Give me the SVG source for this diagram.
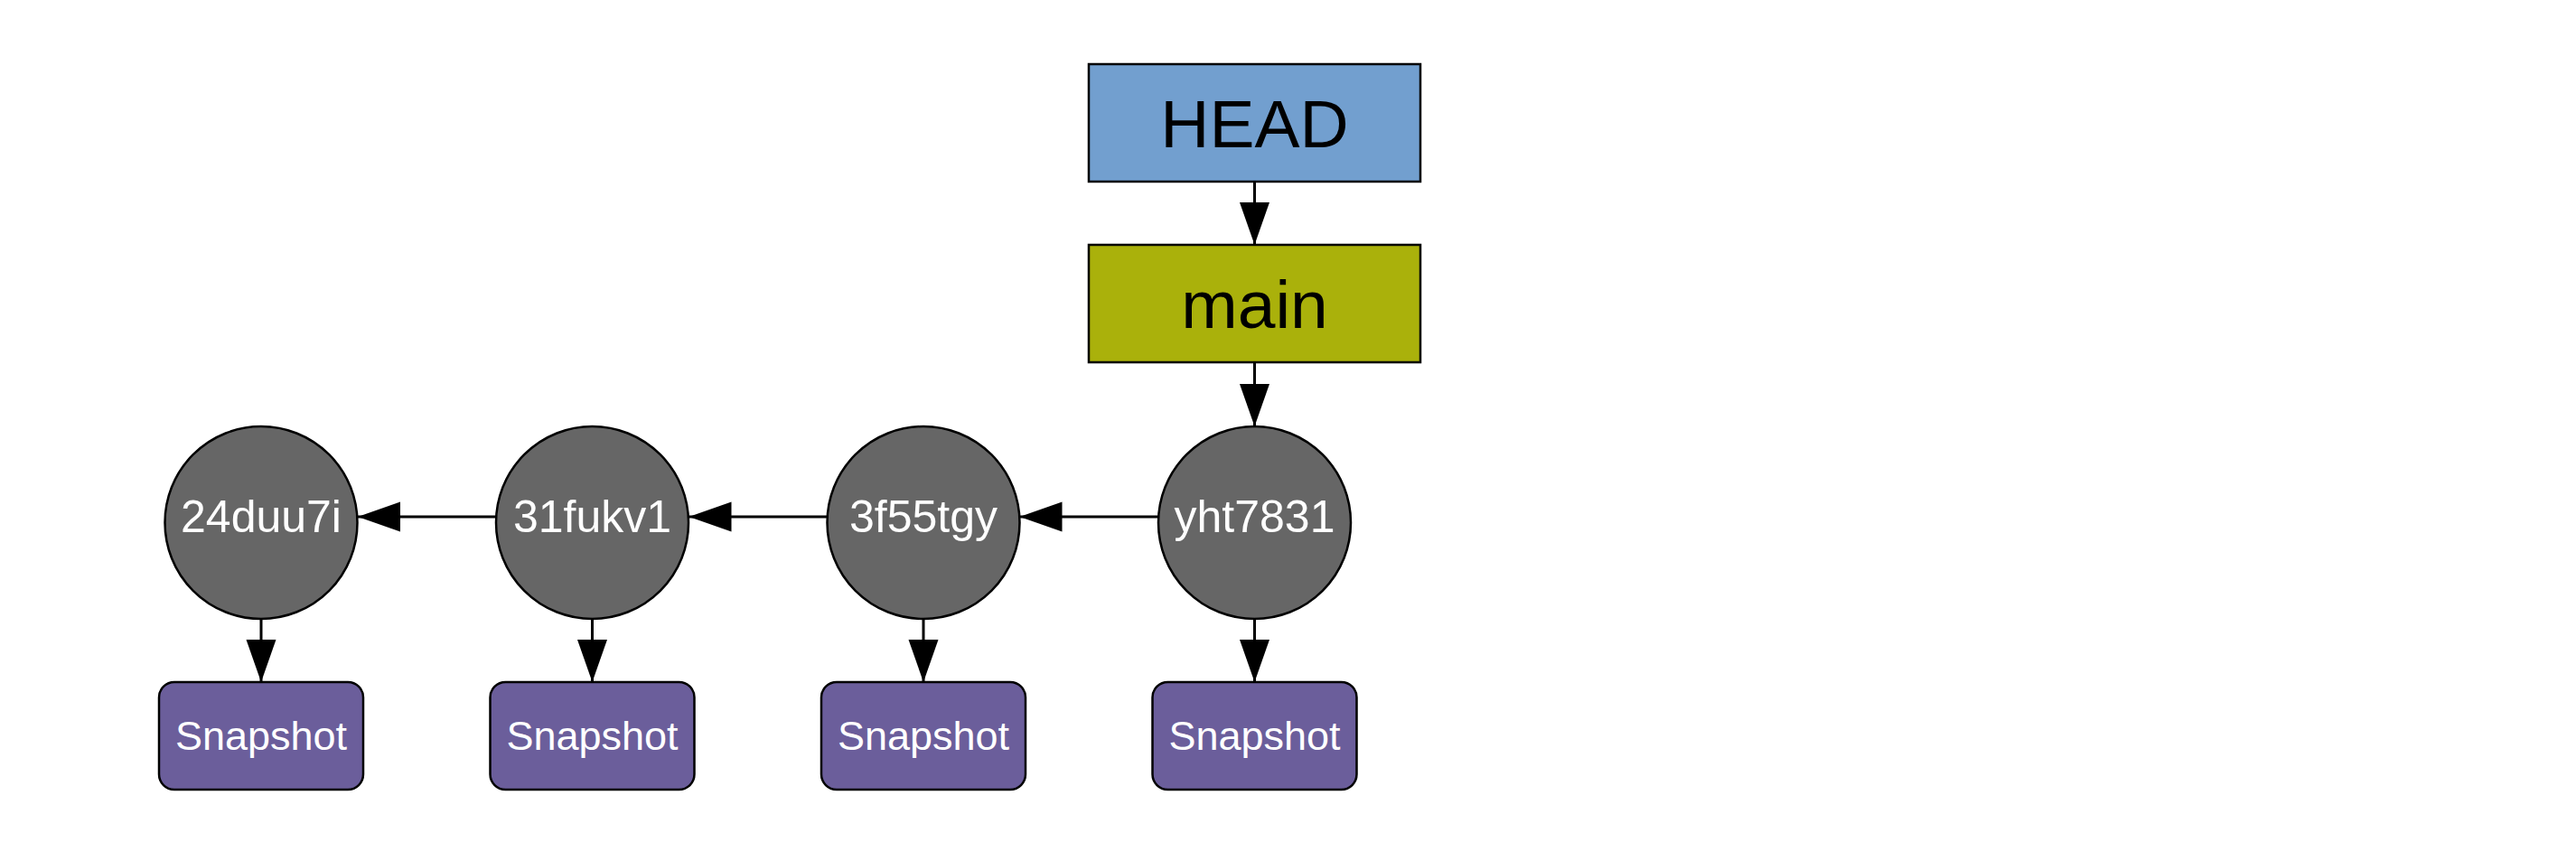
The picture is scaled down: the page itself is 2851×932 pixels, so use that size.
<svg xmlns="http://www.w3.org/2000/svg" width="2851" height="932" viewBox="0 0 2851 932">
<style>
.box{stroke:#000;stroke-width:2.5}
.lbl{font-family:"Liberation Sans",Arial,sans-serif;text-anchor:middle}
.big{font-size:75px;fill:#000}
.cl{font-size:50px;fill:#fff}
.sl{font-size:45px;fill:#fff}
.edge{stroke:#000;stroke-width:3;fill:none;marker-end:url(#arr)}
</style>
<defs>
<marker id="arr" markerUnits="userSpaceOnUse" markerWidth="48" markerHeight="34" refX="47" refY="16.5" orient="auto" viewBox="0 0 48 34">
<path d="M0,0 L47,16.5 L0,33 z" fill="#000"/>
</marker>
</defs>
<rect width="2851" height="932" fill="#fff"/>
<g id="connectors">
<line class="edge" x1="1388.5" y1="201" x2="1388.5" y2="271"/>
<line class="edge" x1="1388.5" y1="401" x2="1388.5" y2="472"/>
<line class="edge" x1="1282" y1="572" x2="1128.5" y2="572"/>
<line class="edge" x1="915.5" y1="572" x2="762.5" y2="572"/>
<line class="edge" x1="549" y1="572" x2="396" y2="572"/>
<line class="edge" x1="289" y1="685" x2="289" y2="755"/>
<line class="edge" x1="655.5" y1="685" x2="655.5" y2="755"/>
<line class="edge" x1="1022" y1="685" x2="1022" y2="755"/>
<line class="edge" x1="1388.5" y1="685" x2="1388.5" y2="755"/>
</g>
<g id="head">
<rect class="box" x="1205" y="71" width="367" height="130" fill="#729fcf"/>
<text class="lbl big" x="1388.5" y="163">HEAD</text>
</g>
<g id="main">
<rect class="box" x="1205" y="271" width="367" height="130" fill="#aab10b"/>
<text class="lbl big" x="1388.5" y="363">main</text>
</g>
<g id="c24duu7i">
<circle class="box" cx="289" cy="578.5" r="106.5" fill="#666"/>
<text class="lbl cl" x="289" y="589">24duu7i</text>
</g>
<g id="c31fukv1">
<circle class="box" cx="655.5" cy="578.5" r="106.5" fill="#666"/>
<text class="lbl cl" x="655.5" y="589">31fukv1</text>
</g>
<g id="c3f55tgy">
<circle class="box" cx="1022" cy="578.5" r="106.5" fill="#666"/>
<text class="lbl cl" x="1022" y="589">3f55tgy</text>
</g>
<g id="cyht7831">
<circle class="box" cx="1388.5" cy="578.5" r="106.5" fill="#666"/>
<text class="lbl cl" x="1388.5" y="589">yht7831</text>
</g>
<g id="snap1">
<rect class="box" x="176" y="755" width="226" height="119" rx="17" fill="#6b5e9b"/>
<text class="lbl sl" x="289" y="830">Snapshot</text>
</g>
<g id="snap2">
<rect class="box" x="542.5" y="755" width="226" height="119" rx="17" fill="#6b5e9b"/>
<text class="lbl sl" x="655.5" y="830">Snapshot</text>
</g>
<g id="snap3">
<rect class="box" x="909" y="755" width="226" height="119" rx="17" fill="#6b5e9b"/>
<text class="lbl sl" x="1022" y="830">Snapshot</text>
</g>
<g id="snap4">
<rect class="box" x="1275.5" y="755" width="226" height="119" rx="17" fill="#6b5e9b"/>
<text class="lbl sl" x="1388.5" y="830">Snapshot</text>
</g>
</svg>
